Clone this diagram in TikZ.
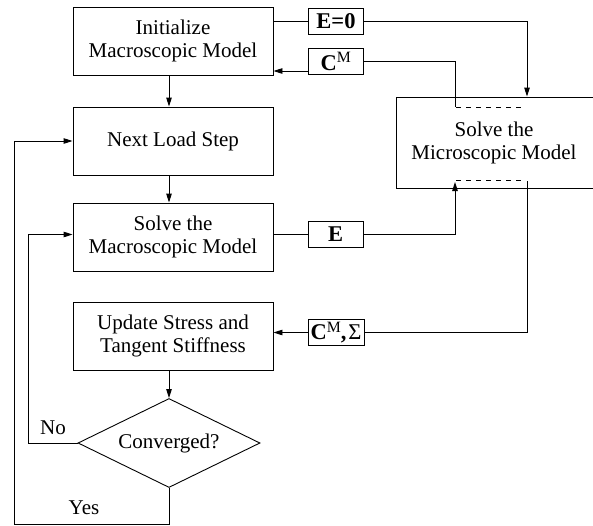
\documentclass[tikz,border=0pt]{standalone}
\usepackage{fontspec}
\setmainfont{Liberation Serif}
\usetikzlibrary{arrows.meta,shapes.geometric}
\begin{document}
\begin{tikzpicture}[x=1pt,y=-1pt,
 every node/.style={font=\fontsize{21}{23.5}\selectfont},
 box/.style={draw, line width=0.9pt, minimum width=200pt, minimum height=68pt, align=center, inner sep=0pt},
 lbl/.style={draw, line width=0.9pt, minimum width=55pt, minimum height=26.5pt, inner sep=0pt, font=\fontsize{22.5}{24}\selectfont\bfseries},
 conn/.style={line width=0.9pt},
 arr/.style={conn, -{Triangle[length=9pt,width=5.5pt]}},
 dashline/.style={line width=0.8pt, dash pattern=on 5pt off 5pt}
]
\useasboundingbox (0,0) rectangle (593,525);
% main column
\node[box] (init) at (173,41) {Initialize\\ Macroscopic Model};
\node[box] (next) at (173,141) {Next Load Step};
\node[box] (macro) at (173,237) {Solve the\\ Macroscopic Model};
\node[box] (update) at (173,336) {Update Stress and\\ Tangent Stiffness};
\node[draw, line width=0.9pt, diamond, aspect=2.05, minimum width=182pt, minimum height=89pt, inner sep=0pt] (conv) at (169,443) {Converged?};
% micro model
\node[draw, line width=0.9pt, minimum width=224pt, minimum height=91pt, inner sep=0pt] (micro) at (508,142.5) {};
\node[align=center] (microtxt) at (494,143) {Solve the\\ Microscopic Model};
\draw[dashline] (456,107) -- (525,107);
\draw[dashline] (456,180) -- (525,180);
% labels
\node[lbl] (e0) at (336,21.5) {E=0};
\node[lbl] (cm) at (336,61.5) {C\textsuperscript{\mdseries M}};
\node[lbl] (E) at (335.5,234.5) {E};
\node[lbl, minimum width=56pt] (cms) at (336,332.5) {C\textsuperscript{\mdseries M}\kern-0.5pt,\kern2pt{\mdseries Σ}};
\node (no) at (53,428) {No};
\node (yes) at (84,508) {Yes};
% coordinates
\coordinate (col) at (169,0);
\coordinate (mA) at (455,0);
\coordinate (mB) at (527,0);
\coordinate (dtop) at (455,107);
\coordinate (dbotA) at (455,182);
\coordinate (dbotB) at (527,181);
\coordinate (noX) at (28,0);
\coordinate (yesX) at (14,0);
\coordinate (ybot) at (0,524);
\coordinate (cmin) at ([yshift=-9.5pt]cm.west);
% connectors
\draw[arr] (col |- init.south) -- (col |- next.north);
\draw[arr] (col |- next.south) -- (col |- macro.north);
\draw[arr] (col |- update.south) -- (conv.north);
\draw[conn] (e0.west -| init.east) -- (e0.west);
\draw[arr] (e0.east) -| (mB |- micro.north);
\draw[conn] (dtop) |- (cm.east);
\draw[arr] (cmin) -- (cmin -| init.east);
\draw[conn] (E.west -| macro.east) -- (E.west);
\draw[arr] (E.east) -| (dbotA);
\draw[conn] (dbotB) |- (cms.east);
\draw[arr] (cms.west) -- (cms.west -| update.east);
\draw[arr] (conv.west) -- (noX |- conv.west) -- (noX |- E.west) -- (E.west -| macro.west);
\draw[arr] (conv.south) -- (conv.south |- ybot) -- (yesX |- ybot) -- (yesX |- next) -- (next.west);
\end{tikzpicture}
\end{document}
